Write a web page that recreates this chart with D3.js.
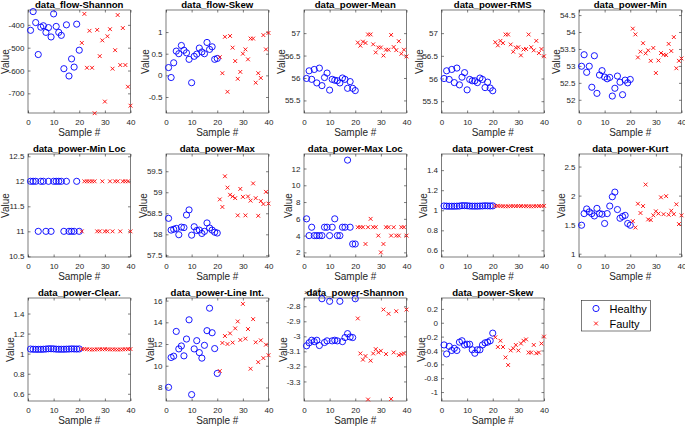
<!DOCTYPE html>
<html><head><meta charset="utf-8">
<script src="https://cdn.jsdelivr.net/npm/d3@7"></script>
<style>
body{margin:0;background:#fff}
svg{display:block;font-family:"Liberation Sans",Arial,Helvetica,sans-serif}
</style>
</head><body>
<svg width="685" height="426"></svg>
<script>
// ---------- data ----------
const healthySamples = d3.range(1, 21);
const faultySamples = d3.range(21, 41);
const xTickLabels = [0, 10, 20, 30, 40];

const flowShannonHealthy = [-424,-342,-390,-530,-410,-404,-433,-412,-453,-352,-407,-433,-446,-592,-400,-624,-549,-585,-397,-511];
const flowShannonFaulty  = [-479,-352,-588,-426,-588,-787,-422,-537,-468,-736,-450,-419,-592,-511,-357,-576,-414,-576,-671,-754];

const flowSkewHealthy = [0.18,-0.05,0.29,0.56,0.50,0.69,0.58,0.52,0.37,-0.17,0.44,0.49,0.63,0.54,0.50,0.76,0.60,0.66,0.37,0.39];
const flowSkewFaulty  = [0.42,0.05,0.89,-0.38,0.91,0.64,0.33,-0.08,0.08,0.50,0.60,0.37,0.85,0.85,-0.17,0.05,-0.06,0.93,0.60,0.98];

const powerMeanHealthy = [55.99,56.16,55.97,56.19,55.89,56.22,55.83,56.01,56.11,55.73,55.97,55.95,55.94,55.89,56.00,55.97,55.77,55.92,55.77,55.72];
const powerMeanFaulty  = [56.79,56.72,56.81,56.78,56.97,56.97,56.75,56.57,56.68,56.68,56.50,56.63,56.63,56.96,56.69,56.62,56.82,56.54,56.63,56.48];

const powerRmsHealthy = [56.00,56.17,55.98,56.20,55.91,56.23,55.86,56.03,56.13,55.75,55.98,55.95,55.95,55.91,56.01,55.98,55.80,55.92,55.79,55.73];
const powerRmsFaulty  = [56.80,56.73,56.83,56.78,56.97,56.97,56.75,56.59,56.68,56.69,56.51,56.64,56.65,56.97,56.69,56.62,56.83,56.56,56.65,56.49];

const powerMinHealthy = [52.99,53.33,52.81,52.99,52.37,53.30,52.19,52.73,52.86,52.67,52.62,52.66,52.11,52.34,52.70,52.52,52.15,52.58,52.50,52.60];
const powerMinFaulty  = [54.10,53.93,53.25,53.42,53.67,53.37,53.46,53.15,53.53,52.79,53.16,53.38,53.33,53.32,53.65,53.44,53.85,52.93,53.15,53.22];

const powerMinLocHealthy = [12,12,12,11,12,12,11,12,11,12,12,12,12,11,12,11,11,11,12,11];
const powerMinLocFaulty  = [11,12,12,12,12,12,11,11,12,11,11,12,11,12,12,11,12,12,12,11];

const powerMaxHealthy = [58.38,58.10,58.12,58.14,57.99,58.17,58.16,58.46,58.58,57.98,58.18,58.09,58.10,58.02,58.07,58.27,58.15,58.10,58.05,58.03];
const powerMaxFaulty  = [58.83,58.65,59.38,59.11,58.94,58.90,58.86,58.45,59.08,58.89,58.45,58.90,58.80,59.21,58.86,58.44,58.79,58.72,59.01,58.73];

const powerMaxLocHealthy = [6,4,5,4,4,4,4,5,5,4,5,6,4,4,5,5,13,5,3,3];
const powerMaxLocFaulty  = [5,5,5,3,5,6,5,5,4,2,3,5,5,4,5,4,4,5,5,4];

const powerCrestHealthy = [1.043,1.041,1.040,1.040,1.040,1.041,1.042,1.046,1.046,1.045,1.042,1.041,1.041,1.041,1.042,1.043,1.045,1.044,1.043,1.044];
const powerCrestFaulty  = [1.043,1.045,1.042,1.040,1.039,1.040,1.041,1.042,1.041,1.043,1.042,1.040,1.041,1.040,1.039,1.040,1.041,1.042,1.043,1.044];

const powerKurtHealthy = [1.49,1.69,1.77,1.72,1.69,1.65,1.78,1.69,1.68,1.52,1.69,1.82,1.98,2.06,1.76,1.61,1.64,1.66,1.52,1.49];
const powerKurtFaulty  = [1.56,1.45,1.86,1.70,1.82,2.19,1.59,1.58,1.66,1.73,1.69,1.97,1.68,1.99,1.67,1.74,1.68,1.85,1.51,1.66];

const powerClearHealthy = [1.046,1.044,1.043,1.043,1.043,1.044,1.046,1.049,1.049,1.048,1.045,1.044,1.044,1.044,1.045,1.046,1.048,1.047,1.046,1.047];
const powerClearFaulty  = [1.045,1.047,1.044,1.042,1.041,1.042,1.043,1.044,1.043,1.045,1.044,1.042,1.043,1.042,1.041,1.042,1.043,1.044,1.045,1.046];

const powerLineIntHealthy = [8.01,10.76,10.88,13.16,11.55,11.82,10.91,12.46,14.23,7.34,11.55,12.31,11.21,10.70,11.88,13.23,15.30,13.04,11.58,9.29];
const powerLineIntFaulty  = [9.51,12.10,12.74,12.00,12.98,12.13,13.44,14.08,12.37,15.70,12.49,13.38,9.72,14.29,12.16,10.33,12.34,10.70,11.94,10.97];

const powerShannonHealthy = [-3.063,-3.043,-3.026,-3.035,-3.026,-3.061,-2.750,-3.041,-3.030,-2.767,-3.030,-3.026,-3.030,-2.767,-3.035,-3.008,-2.982,-3.004,-3.008,-2.750];
const powerShannonFaulty  = [-2.881,-3.114,-3.155,-3.131,-3.420,-3.162,-3.114,-3.085,-3.107,-3.096,-2.822,-3.118,-2.850,-3.416,-3.107,-2.833,-3.125,-3.118,-3.114,-2.822];

const powerSkewHealthy = [-0.32,-0.45,-0.34,-0.40,-0.37,-0.40,-0.28,-0.26,-0.32,-0.31,-0.31,-0.39,-0.44,-0.39,-0.39,-0.32,-0.29,-0.28,-0.26,-0.15];
const powerSkewFaulty  = [-0.21,-0.35,-0.26,-0.35,-0.50,-0.61,-0.40,-0.37,-0.32,-0.40,-0.30,-0.26,-0.24,-0.43,-0.43,-0.32,-0.44,-0.43,-0.30,-0.20];

const legendLabels = ["Healthy", "Faulty"];

// ---------- panels ----------
const panels = [
  {title:"data_flow-Shannon", h:flowShannonHealthy, f:flowShannonFaulty, domain:[-786,-335], ticks:[-700,-600,-500,-400]},
  {title:"data_flow-Skew", h:flowSkewHealthy, f:flowSkewFaulty, domain:[-0.87,1.51], ticks:[-0.5,0,0.5,1]},
  {title:"data_power-Mean", h:powerMeanHealthy, f:powerMeanFaulty, domain:[55.22,57.515], ticks:[55.5,56,56.5,57]},
  {title:"data_power-RMS", h:powerRmsHealthy, f:powerRmsFaulty, domain:[55.24,57.51], ticks:[55.5,56,56.5,57]},
  {title:"data_power-Min", h:powerMinHealthy, f:powerMinFaulty, domain:[51.61,54.65], ticks:[52,52.5,53,53.5,54,54.5]},
  {title:"data_power-Min Loc", h:powerMinLocHealthy, f:powerMinLocFaulty, domain:[10.487,12.546], ticks:[10.5,11,11.5,12,12.5]},
  {title:"data_power-Max", h:powerMaxHealthy, f:powerMaxFaulty, domain:[57.46,59.91], ticks:[57.5,58,58.5,59,59.5]},
  {title:"data_power-Max Loc", h:powerMaxLocHealthy, f:powerMaxLocFaulty, domain:[1.45,13.73], ticks:[2,4,6,8,10,12]},
  {title:"data_power-Crest", h:powerCrestHealthy, f:powerCrestFaulty, domain:[0.534,1.561], ticks:[0.6,0.8,1,1.2,1.4]},
  {title:"data_power-Kurt", h:powerKurtHealthy, f:powerKurtFaulty, domain:[0.943,2.716], ticks:[1,1.5,2,2.5]},
  {title:"data_power-Clear.", h:powerClearHealthy, f:powerClearFaulty, domain:[0.528,1.555], ticks:[0.6,0.8,1,1.2,1.4]},
  {title:"data_power-Line Int.", h:powerLineIntHealthy, f:powerLineIntFaulty, domain:[6.75,16.24], ticks:[8,10,12,14,16]},
  {title:"data_power-Shannon", h:powerShannonHealthy, f:powerShannonFaulty, domain:[-3.43,-2.745], ticks:[-3.3,-3.2,-3.1,-3,-2.9,-2.8], exponent:"4"},
  {title:"data_power-Skew", h:powerSkewHealthy, f:powerSkewFaulty, domain:[-1.129,0.357], ticks:[-1,-0.8,-0.6,-0.4,-0.2,0,0.2]}
];

// ---------- layout ----------
const svg = d3.select("svg");
const colLeft = [28, 166, 304, 441.5, 579];
const rowTop = [10, 154, 298];
const W = 102.5, H = 103;
const axisColor = "#262626";
const fmt = d => String(d);

function drawCircle(sel, cx, cy) {
  sel.append("circle").attr("cx", cx).attr("cy", cy).attr("r", 3.1)
    .attr("fill", "none").attr("stroke", "#0000ff").attr("stroke-width", 0.9);
}
function drawCross(sel, cx, cy) {
  const s = 1.9;
  sel.append("path").attr("d", `M${cx-s},${cy-s}L${cx+s},${cy+s}M${cx-s},${cy+s}L${cx+s},${cy-s}`)
    .attr("stroke", "#ff0000").attr("stroke-width", 0.9).attr("fill", "none");
}

panels.forEach((p, i) => {
  const r = Math.floor(i / 5), c = i % 5;
  const g = svg.append("g").attr("transform", `translate(${colLeft[c]},${rowTop[r]})`);
  const x = d3.scaleLinear().domain([0, 40]).range([0, W]);
  const y = d3.scaleLinear().domain(p.domain).range([H, 0]);

  // axes
  const ax = g.append("g").attr("transform", `translate(0,${H})`)
    .call(d3.axisBottom(x).tickValues(xTickLabels).tickFormat(fmt).tickSize(-2.5).tickPadding(6.5));
  const ay = g.append("g")
    .call(d3.axisLeft(y).tickValues(p.ticks).tickFormat(fmt).tickSize(-2.5).tickPadding(3.5));
  const at = g.append("g").call(d3.axisTop(x).tickValues(xTickLabels).tickFormat("").tickSize(-2.5));
  const ar = g.append("g").attr("transform", `translate(${W},0)`)
    .call(d3.axisRight(y).tickValues(p.ticks).tickFormat("").tickSize(-2.5));
  [ax, ay, at, ar].forEach(a => {
    a.select(".domain").remove();
    a.selectAll("line").attr("stroke", axisColor).attr("stroke-width", 0.6);
    a.selectAll("text").attr("fill", axisColor).style("font-size", "8px");
  });
  g.append("rect").attr("x", 0).attr("y", 0).attr("width", W).attr("height", H)
    .attr("fill", "none").attr("stroke", axisColor).attr("stroke-width", 0.6);

  // max tick label width
  let maxW = 0;
  ay.selectAll("text").each(function(){ maxW = Math.max(maxW, this.getComputedTextLength()); });

  // labels
  g.append("text").attr("x", W / 2).attr("y", H + 22.5).attr("text-anchor", "middle")
    .attr("fill", axisColor).style("font-size", "10px").text("Sample #");
  const lx = Math.max(-3.5 - maxW + 0.5, 8.5 - colLeft[c]);
  g.append("text").attr("transform", `translate(${lx},${H/2}) rotate(-90)`)
    .attr("text-anchor", "middle").attr("fill", axisColor).style("font-size", "10px").text("Value");

  if (p.exponent) {
    const t = g.append("text").attr("x", 0).attr("y", -3).attr("fill", axisColor).style("font-size", "8px");
    t.append("tspan").text("\u00d710");
    t.append("tspan").attr("dy", -3).style("font-size", "6px").text(p.exponent);
  }

  g.append("text").attr("x", W / 2).attr("y", -2.5).attr("text-anchor", "middle")
    .style("font-size", "9.6px").style("font-weight", "bold").attr("fill", "#000").text(p.title);

  // marks
  const mk = g.append("g");
  p.h.forEach((v, k) => drawCircle(mk, x(healthySamples[k]), y(v)));
  p.f.forEach((v, k) => drawCross(mk, x(faultySamples[k]), y(v)));
});

// ---------- legend ----------
const lg = svg.append("g").attr("transform", "translate(581.5,300.5)");
lg.append("rect").attr("width", 69).attr("height", 30.5).attr("fill", "#fff")
  .attr("stroke", axisColor).attr("stroke-width", 0.6);
drawCircle(lg, 14.5, 8);
drawCross(lg, 14.5, 23);
legendLabels.forEach((t, k) => {
  lg.append("text").attr("x", 28).attr("y", 12 + k * 15).attr("fill", "#000")
    .style("font-size", "11px").text(t);
});
</script>
</body></html>
